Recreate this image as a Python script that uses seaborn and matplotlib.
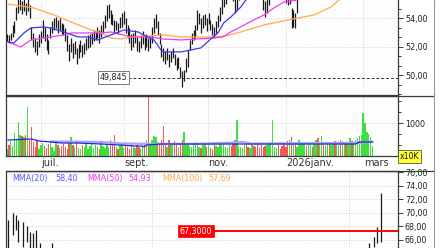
import numpy as np
import pandas as pd
import matplotlib
matplotlib.use("Agg")
import matplotlib.pyplot as plt
import seaborn as sns
from matplotlib.ticker import FixedLocator, FuncFormatter, NullLocator
from matplotlib.lines import Line2D

# ---------------- data ----------------
# daily price bars of the upper panel (trading-day index 0..194)
LOW = [
    52.4, 52.3, 52.5, 52.7, 53.0, 53.9, 54.4, 54.6, 54.3, 54.5,
    54.2, 54.5, 54.0, 52.5, 52.0, 51.6, 51.4, 52.0, 52.3, 52.6,
    52.4, 51.8, 51.5, 52.6, 53.0, 53.2, 53.3, 53.0, 53.2, 52.9,
    52.8, 52.4, 51.7, 51.0, 51.6, 51.2, 51.5, 50.8, 51.2, 51.6,
    51.3, 51.5, 51.8, 51.9, 52.0, 52.2, 52.4, 52.5, 52.6, 52.3,
    52.7, 53.0, 53.3, 53.8, 54.0, 53.6, 53.5, 53.0, 53.2, 52.9,
    53.3, 53.4, 53.6, 53.0, 52.6, 52.3, 51.8, 52.0, 52.3, 51.7,
    51.6, 51.9, 52.2, 51.8, 52.0, 51.7, 51.9, 52.3, 53.0, 53.3,
    52.8, 52.2, 51.3, 51.0, 50.8, 51.1, 50.6, 50.9, 51.2, 50.7,
    50.4, 50.5, 49.8, 49.2, 49.6, 50.2, 50.6, 51.8, 52.2, 52.5,
    52.6, 53.2, 53.6, 53.0, 53.3, 53.5, 53.1, 53.6, 53.2, 52.8,
    52.6, 53.0, 53.4, 53.8, 54.3, 54.8, 55.0, 55.4, 55.6, 55.5,
    55.2, 54.4, 54.6, 55.3, 55.6, 55.9, 56.2, 56.0, 55.8, 56.1,
    56.4, 56.2, 55.9, 55.6, 55.4, 55.4, 54.6, 54.1, 54.4, 54.9,
    55.4, 55.6, 55.9, 56.1, 55.8, 55.6, 55.5, 55.4, 55.1, 54.9,
    55.0, 53.3, 53.4, 53.3, 54.4, 55.4, 55.8, 56.2, 56.5, 56.3,
    56.8, 57.1, 57.0, 57.4, 57.8, 57.5, 57.9, 58.2, 58.0, 58.4,
    58.7, 58.5, 58.9, 59.2, 59.0, 59.4, 59.7, 59.5, 59.9, 60.2,
    60.0, 60.4, 60.7, 60.5, 60.9, 61.2, 61.6, 62.0, 62.8, 63.5,
    64.8, 65.5, 66.2, 66.8, 67.0,
]
HIGH = [
    52.9, 52.8, 53.0, 53.5, 53.8, 54.8, 55.4, 55.6, 55.2, 55.5,
    55.1, 55.4, 54.9, 53.4, 53.0, 52.6, 52.4, 52.9, 53.1, 53.9,
    53.4, 52.9, 52.5, 53.4, 53.8, 54.0, 54.1, 53.9, 54.0, 53.7,
    53.6, 53.3, 52.8, 52.2, 52.6, 52.3, 52.4, 51.9, 52.2, 52.5,
    52.1, 52.3, 52.6, 52.8, 52.9, 53.0, 53.2, 53.1, 53.4, 53.2,
    53.5, 53.8, 54.2, 54.9, 55.0, 54.6, 54.3, 53.9, 53.8, 53.7,
    54.1, 54.4, 54.5, 54.0, 53.5, 53.3, 52.9, 53.0, 53.2, 52.7,
    52.4, 52.8, 53.1, 52.8, 52.9, 52.6, 52.7, 53.4, 54.0, 54.3,
    53.8, 53.0, 52.2, 51.9, 51.7, 51.9, 51.5, 51.7, 51.9, 51.5,
    51.2, 51.3, 50.6, 50.3, 50.4, 51.2, 51.8, 52.5, 53.0, 53.2,
    53.5, 54.6, 54.4, 54.0, 54.2, 54.3, 54.0, 54.4, 53.9, 53.6,
    53.4, 53.8, 54.2, 54.8, 55.4, 55.8, 56.0, 56.3, 56.4, 56.2,
    56.1, 55.5, 55.6, 56.2, 56.5, 56.8, 57.0, 56.9, 56.7, 57.1,
    57.3, 57.0, 56.8, 56.5, 56.3, 56.2, 55.6, 55.2, 55.5, 55.9,
    56.2, 56.6, 56.9, 57.0, 56.8, 56.5, 56.4, 56.3, 56.0, 55.8,
    55.9, 54.7, 54.6, 54.4, 55.4, 56.4, 56.8, 57.1, 57.4, 57.2,
    57.7, 58.0, 57.9, 58.3, 58.6, 58.4, 58.9, 59.1, 58.9, 59.3,
    59.6, 59.4, 59.8, 60.0, 59.9, 60.3, 60.6, 60.4, 60.8, 61.1,
    60.9, 61.3, 61.6, 61.4, 61.8, 62.1, 62.6, 63.2, 64.0, 65.5,
    66.8, 67.6, 68.0, 69.5, 73.0,
]
# volume (x10K)
VOLUME = [
    520, 600, 680, 580, 820, 700, 1018, 780, 760, 740,
    780, 1290, 700, 927, 650, 560, 700, 520, 600, 640,
    580, 540, 620, 680, 560, 500, 650, 600, 540, 580,
    620, 560, 520, 640, 745, 600, 560, 700, 540, 520,
    600, 560, 660, 520, 580, 620, 540, 600, 560, 520,
    640, 580, 540, 600, 560, 700, 620, 780, 560, 520,
    600, 640, 540, 600, 560, 520, 620, 580, 540, 600,
    560, 520, 640, 600, 700, 1480, 600, 700, 760, 745,
    660, 600, 700, 945, 620, 560, 700, 640, 600, 680,
    600, 560, 640, 700, 836, 620, 600, 580, 560, 640,
    655, 600, 560, 540, 600, 620, 560, 600, 540, 520,
    600, 580, 560, 620, 600, 640, 560, 540, 600, 580,
    640, 700, 1054, 580, 560, 540, 600, 620, 560, 540,
    600, 580, 560, 620, 540, 600, 560, 580, 600, 620,
    660, 1054, 560, 540, 600, 520, 580, 600, 560, 680,
    700, 745, 620, 600, 560, 700, 660, 620, 600, 580,
    640, 600, 560, 660, 700, 720, 620, 763, 600, 580,
    640, 660, 600, 620, 680, 640, 600, 700, 680, 640,
    660, 640, 727, 680, 660, 700, 720, 760, 780, 1182,
    1000, 836, 800, 740, 580,
]
# moving averages (day index, value)
MMA20_DAY = [0.5, 3.7, 9, 12.7, 19.6, 23.3, 30.2, 37.7, 43, 48.3, 55.2, 62, 69.5, 74.8, 78,
             81.7, 83.3, 92.3, 102.9, 108.2, 112, 115, 118.8, 124.1, 126.8, 140, 148, 153, 166, 194]
MMA20_VAL = [52.34, 52.27, 52.97, 53.32, 53.39, 53.32, 53.04, 52.69, 52.69, 52.48, 52.83, 53.18, 53.04, 52.69, 52.48,
             51.78, 51.64, 51.64, 51.92, 52.55, 52.97, 53.67, 54.09, 54.79, 55.28, 56.2, 55.6, 55.3, 57.0, 62.0]
MMA50_DAY = [0.5, 7.4, 12.7, 19.6, 30.2, 34, 49.9, 55.2, 65.8, 76.4, 82.8, 92.3, 101.3, 109.8,
             114.6, 118.8, 127.9, 136.3, 141.6, 147, 154.4, 175, 194]
MMA50_VAL = [52.34, 51.99, 52.48, 52.62, 52.83, 52.97, 52.97, 53.04, 52.69, 52.69, 52.55, 52.48, 52.55, 52.62,
             52.69, 53.04, 53.67, 54.23, 54.72, 55.14, 55.28, 56.5, 58.0]
MMA100_DAY = [0.5, 14.3, 24.9, 34, 44.6, 49.9, 55.2, 60.5, 65.8, 82.8, 92.3, 109.8, 116.2, 124.1,
              136.3, 149.1, 162.9, 171.9, 176.1, 194]
MMA100_VAL = [55.0, 54.72, 54.23, 53.74, 53.18, 52.97, 52.62, 52.55, 52.69, 52.83, 52.69, 52.69, 52.76, 53.04,
              53.53, 53.88, 54.23, 54.79, 55.28, 56.5]
# volume moving averages
VOLMA_DAY = [0.5, 13, 17, 23, 29, 37, 50, 60, 68, 71, 73, 74, 82, 103, 124, 140, 156, 185, 187, 194]
VOLMA_VAL = [690, 710, 673, 655, 636, 636, 618, 600, 582, 582, 564, 600, 618, 618, 618, 618, 618, 618, 655, 655]
VOLMA2_DAY = [23, 50, 60, 75, 100, 118, 125, 130, 185, 194]
VOLMA2_VAL = [665, 655, 630, 620, 620, 640, 655, 625, 640, 660]
REF_LOW = 49.845

MONTH_POS = [18, 62, 106.5, 148, 189]
MONTH_LABELS = ["juil.", "sept.", "nov.", "2026janv.", "mars"]

# lower panel
B_DAY = [0.7, 3, 4.6, 6, 8.3, 10.4, 12.2, 14, 15.4, 17.5, 23.7, 192.2, 194.5, 196.6, 198.4]
B_LOW = [64.0, 66.7, 67.5, 65.75, 65.0, 65.75, 64.0, 64.0, 64.0, 64.0, 64.0, 64.0, 65.0, 65.6, 65.7]
B_HIGH = [68.9, 69.9, 69.7, 68.9, 68.7, 68.0, 67.2, 67.0, 67.5, 65.5, 65.5, 65.5, 66.4, 67.9, 72.9]
B_LEVEL = 67.30
B_MMA_NAMES = ["MMA(20)", "MMA(50)", "MMA(100)"]
B_MMA_VALUES = [58.40, 54.93, 57.69]

# ---------------- style ----------------
sns.set_theme(style="white")
plt.rcParams['font.family'] = ['DejaVu Sans']

W, H = 440, 248
fig = plt.figure(figsize=(4.4, 2.48), dpi=100, facecolor="white")


def fx(px):
    return px / W


def fy(py):
    return 1 - py / H


AXBG = "#fcfdfc"
GRID = "#c4c4c4"
SPINE = "#3a3a3a"
XL = (-0.5, 207.5)

ax1 = fig.add_axes([fx(6), fy(95), fx(392), 95 / H], facecolor=AXBG)
ax2 = fig.add_axes([fx(6), fy(156), fx(392), 60 / H], facecolor=AXBG)
ax3 = fig.add_axes([fx(6), 0, fx(392), 77 / H], facecolor=AXBG)

fr = lambda v, p: f"{v:.2f}".replace(".", ",")

for ax in (ax1, ax2, ax3):
    ax.set_xlim(*XL)
    ax.xaxis.set_major_locator(NullLocator())
    ax.xaxis.set_minor_locator(NullLocator())
    ax.yaxis.tick_right()
    ax.tick_params(axis="y", which="both", direction="out", colors=SPINE, labelsize=5.8,
                   labelcolor="#222", pad=1.5)
    ax.tick_params(axis="y", which="major", length=3.5, width=0.7)
    ax.tick_params(axis="y", which="minor", length=2.5, width=0.7)
    for s in ax.spines.values():
        s.set_color(SPINE)
        s.set_linewidth(0.9)
    ax.set_xlabel("")
    ax.set_ylabel("")

# ---- top panel ----
days = np.arange(len(LOW))
ax1.set_ylim(48.62, 55.28)
for yv in (52, 54):
    ax1.axhline(yv, color=GRID, lw=0.6, ls=(0, (1, 2)), zorder=0)
for xv in MONTH_POS:
    ax1.axvline(xv, color=GRID, lw=0.6, ls=(0, (1, 2)), zorder=0)
ax1.yaxis.set_major_locator(FixedLocator([50, 52, 54]))
ax1.yaxis.set_minor_locator(FixedLocator(np.arange(48 + 2 / 3, 55.3, 2 / 3)))
ax1.yaxis.set_major_formatter(FuncFormatter(fr))
ax1.spines["top"].set_visible(False)

ax1.vlines(days, LOW, HIGH, color="#1a1a1a", lw=0.9, zorder=3)
ma_df = pd.concat([
    pd.DataFrame({"day": MMA100_DAY, "val": MMA100_VAL, "ma": "MMA(100)"}),
    pd.DataFrame({"day": MMA50_DAY, "val": MMA50_VAL, "ma": "MMA(50)"}),
    pd.DataFrame({"day": MMA20_DAY, "val": MMA20_VAL, "ma": "MMA(20)"}),
])
sns.lineplot(data=ma_df, x="day", y="val", hue="ma", ax=ax1, legend=False, lw=0.9,
             palette={"MMA(20)": "#3a3ae8", "MMA(50)": "#f03cf0", "MMA(100)": "#ffab4a"},
             sort=False, zorder=4)
ax1.set_xlabel("")
ax1.set_ylabel("")
ax1.set_xlim(*XL)
ax1.set_ylim(48.62, 55.28)

ax1.hlines(REF_LOW, 64.2, XL[1], color="#333", lw=0.7, ls=(0, (3, 2)), zorder=2)
ax1.text(63.8, REF_LOW, f"{REF_LOW:.3f}".replace(".", ","), ha="right", va="center",
         fontsize=5.8, color="#222", zorder=6,
         bbox=dict(boxstyle="square,pad=0.25", fc="white", ec="#777", lw=0.7))

# ---- volume panel ----
ax2.set_ylim(400, 1491)
ax2.axhline(1000, color=GRID, lw=0.6, ls=(0, (1, 2)), zorder=0)
for xv in MONTH_POS:
    ax2.axvline(xv, color=GRID, lw=0.6, ls=(0, (1, 2)), zorder=0)
mid = (np.array(LOW) + np.array(HIGH)) / 2
up = np.r_[True, mid[1:] >= mid[:-1]]
cols = np.where(up, "#3ee03e", "#f25a5a")
ax2.bar(days, np.array(VOLUME) - 400, bottom=400, width=0.75, color=cols, lw=0, zorder=2)
sns.lineplot(x=VOLMA2_DAY, y=VOLMA2_VAL, ax=ax2, color="#a6a6f0", lw=1.6, zorder=3)
sns.lineplot(x=VOLMA_DAY, y=VOLMA_VAL, ax=ax2, color="#2424dd", lw=0.9, zorder=4)
ax2.set_xlim(*XL)
ax2.set_ylim(400, 1491)
ax2.yaxis.set_major_locator(FixedLocator([1000]))
ax2.yaxis.set_minor_locator(FixedLocator([600, 800, 1200, 1400]))
ax2.yaxis.set_major_formatter(FuncFormatter(lambda v, p: f"{v:.0f}"))
ax2.set_xlabel("")
ax2.set_ylabel("")

# ---- lower panel ----
ax3.set_ylim(64.82, 76.15)
for yv in range(66, 77, 2):
    ax3.axhline(yv, color=GRID, lw=0.6, ls=(0, (1, 2)), zorder=0)
for xv in (77, 181.5):
    ax3.axvline(xv, color=GRID, lw=0.6, ls=(0, (1, 2)), zorder=0)
ax3.yaxis.set_major_locator(FixedLocator(list(range(66, 77, 2))))
ax3.yaxis.set_major_formatter(FuncFormatter(fr))
ax3.spines["bottom"].set_visible(False)
ax3.vlines(B_DAY, B_LOW, B_HIGH, color="#1a1a1a", lw=0.9, zorder=3)
ax3.hlines(B_LEVEL, 109.3, XL[1], color="#ff0000", lw=1.4, zorder=4)
ax3.text(109.0, B_LEVEL, f"{B_LEVEL:.4f}".replace(".", ","), ha="right", va="center",
         fontsize=5.8, color="white", zorder=6,
         bbox=dict(boxstyle="square,pad=0.22", fc="#ff0000", ec="#ff0000", lw=0.5))
leg_cols = ["#5a5aff", "#f03cf0", "#ffaa55"]
name_x = [12, 87, 162]
val_x = [55, 128, 208]
for n, v, c, nx, vx in zip(B_MMA_NAMES, B_MMA_VALUES, leg_cols, name_x, val_x):
    fig.text(fx(nx), fy(179), n, color=c, fontsize=5.8, va="center", ha="left")
    fig.text(fx(vx), fy(179), f"{v:.2f}".replace(".", ","), color=c, fontsize=5.8,
             va="center", ha="left")

# ---- month labels ----
for xv, lab in zip(MONTH_POS, MONTH_LABELS):
    xp = 6 + (xv + 0.5) * 1.885
    fig.text(fx(xp + 0.5), fy(163.5), lab, fontsize=7, color="#333", ha="left", va="center")

# x10K box
fig.text(fx(400), fy(156.5), "x10K", fontsize=5.6, color="#111", ha="left", va="center",
         bbox=dict(boxstyle="square,pad=0.2", fc="#ffff33", ec="#555", lw=0.6))

# frame lines
fig.add_artist(Line2D([fx(6), fx(434)], [fy(96), fy(96)], color=SPINE, lw=0.9))
fig.add_artist(Line2D([fx(6), fx(434)], [fy(171), fy(171)], color=SPINE, lw=0.9))
fig.add_artist(Line2D([fx(434), fx(434)], [0, 1], color="#9a9a9a", lw=0.8))

fig.savefig("out.png", dpi=100, facecolor=fig.get_facecolor())
